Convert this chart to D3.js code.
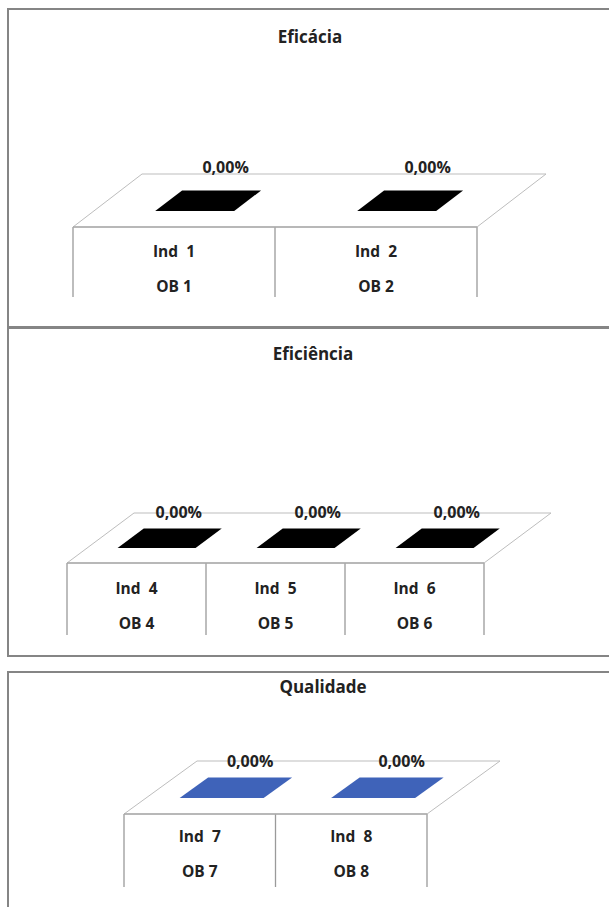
<!DOCTYPE html>
<html>
<head>
<meta charset="utf-8">
<script src="https://cdnjs.cloudflare.com/ajax/libs/d3/7.8.5/d3.min.js"></script>
<style>
  html, body { margin: 0; padding: 0; background: #fff; }
  text { font-family: "Open Sans", "DejaVu Sans", sans-serif; font-weight: 700; fill: #222; white-space: pre; }
</style>
</head>
<body>
<div id="chart"></div>
<script>
// data for the three panels
const titles = ["Eficácia", "Eficiência", "Qualidade"];

const indicators1 = ["Ind  1", "Ind  2"];
const objectives1 = ["OB 1", "OB 2"];
const values1 = [0, 0];

const indicators2 = ["Ind  4", "Ind  5", "Ind  6"];
const objectives2 = ["OB 4", "OB 5", "OB 6"];
const values2 = [0, 0, 0];

const indicators3 = ["Ind  7", "Ind  8"];
const objectives3 = ["OB 7", "OB 8"];
const values3 = [0, 0];

let win_width = 609, win_height = 907;

let svg = d3.select("#chart")
    .append("svg")
    .attr("width", win_width)
    .attr("height", win_height);

// layout of each panel (box, floor of the 3d plot, text offsets)
let panels = [
    {title: titles[0], ind: indicators1, ob: objectives1, vals: values1, color: "#000",
     box: [8, 9, 612, 318], titleX: 310, titleY: 43,
     left: 73, right: 477, front: 227, dx: 69, dy: 53, barW: 79,
     labDx: 4, labDy: -17.5, indDy: 30, obDy: 65, lineDy: 70},
    {title: titles[1], ind: indicators2, ob: objectives2, vals: values2, color: "#000",
     box: [8, 328, 612, 328], titleX: 313, titleY: 360,
     left: 67, right: 484, front: 563, dx: 67, dy: 50, barW: 78,
     labDx: -4, labDy: -10.5, indDy: 31, obDy: 66, lineDy: 72},
    {title: titles[2], ind: indicators3, ob: objectives3, vals: values3, color: "#3f63b9",
     box: [8, 672, 612, 250], titleX: 323, titleY: 693,
     left: 124, right: 427, front: 814, dx: 73, dy: 53, barW: 84,
     labDx: 0, labDy: -10.5, indDy: 28, obDy: 63, lineDy: 73}
];

// depth range occupied by the bars (0 = front of floor, 1 = back)
let z0 = 0.3, z1 = 0.69;

let fmt = function(v) { return d3.format(".2f")(v * 100).replace(".", ",") + "%"; };

panels.forEach(function(p) {
    let g = svg.append("g");

    g.append("rect")
        .attr("x", p.box[0]).attr("y", p.box[1])
        .attr("width", p.box[2]).attr("height", p.box[3])
        .attr("fill", "none")
        .attr("stroke", "#858585")
        .attr("stroke-width", 2);

    g.append("text")
        .attr("x", p.titleX).attr("y", p.titleY)
        .attr("text-anchor", "middle")
        .style("font-size", "17px")
        .text(p.title);

    let x = d3.scaleBand().domain(p.ind).range([p.left, p.right]);
    let h = d3.scaleLinear().domain([0, 1]).range([0, 120]);

    // floor
    let floor = [[p.left, p.front], [p.left + p.dx, p.front - p.dy],
                 [p.right + p.dx, p.front - p.dy], [p.right, p.front]];
    g.append("path")
        .attr("d", d3.line()(floor) + "Z")
        .attr("fill", "none")
        .attr("stroke", "#bdbdbd")
        .attr("stroke-width", 1);

    // category table under the floor
    let bounds = p.ind.map(function(d) { return x(d); }).concat([p.right]);
    g.selectAll(".vline")
        .data(bounds)
        .join("line")
        .attr("x1", function(d) { return d; })
        .attr("x2", function(d) { return d; })
        .attr("y1", p.front)
        .attr("y2", p.front + p.lineDy)
        .attr("stroke", "#9a9a9a")
        .attr("stroke-width", 1.3);

    g.append("line")
        .attr("x1", p.left).attr("x2", p.right)
        .attr("y1", p.front).attr("y2", p.front)
        .attr("stroke", "#ababab")
        .attr("stroke-width", 1.3);

    let cx = function(i) { return x(p.ind[i]) + x.bandwidth() / 2; };

    g.selectAll(".ind")
        .data(p.ind)
        .join("text")
        .attr("x", function(d, i) { return cx(i); })
        .attr("y", p.front + p.indDy)
        .attr("text-anchor", "middle")
        .style("font-size", "15.5px")
        .text(function(d) { return d; });

    g.selectAll(".ob")
        .data(p.ob)
        .join("text")
        .attr("x", function(d, i) { return cx(i); })
        .attr("y", p.front + p.obDy)
        .attr("text-anchor", "middle")
        .style("font-size", "15.5px")
        .text(function(d) { return d; });

    // bars (top face of each 3d bar)
    g.selectAll(".bar")
        .data(p.vals)
        .join("path")
        .attr("fill", p.color)
        .attr("d", function(v, i) {
            let c = cx(i), hh = h(v);
            let pts = [
                [c - p.barW / 2 + z0 * p.dx, p.front - z0 * p.dy - hh],
                [c + p.barW / 2 + z0 * p.dx, p.front - z0 * p.dy - hh],
                [c + p.barW / 2 + z1 * p.dx, p.front - z1 * p.dy - hh],
                [c - p.barW / 2 + z1 * p.dx, p.front - z1 * p.dy - hh]
            ];
            return d3.line()(pts) + "Z";
        });

    g.selectAll(".val")
        .data(p.vals)
        .join("text")
        .attr("x", function(v, i) { return cx(i) + z1 * p.dx + p.labDx; })
        .attr("y", function(v) { return p.front - z1 * p.dy - h(v) + p.labDy; })
        .attr("text-anchor", "middle")
        .style("font-size", "16px")
        .text(function(v) { return fmt(v); });
});
</script>
</body>
</html>
